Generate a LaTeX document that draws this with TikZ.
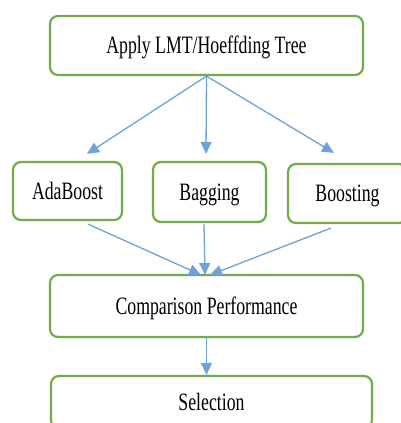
\documentclass[tikz,border=0pt]{standalone}
\usepackage{fontspec}
\setmainfont{Liberation Serif}
\usetikzlibrary{arrows.meta}
\definecolor{boxgreen}{HTML}{70AD47}
\definecolor{flowblue}{HTML}{6FA3D8}
\tikzset{
  stagebox/.style={draw=boxgreen, line width=2.2pt, rounded corners=8pt,
    fill=white, inner sep=0pt, text height=16.5pt, text depth=0pt,
    font=\fontsize{25pt}{28pt}\selectfont},
  flow/.style={draw=flowblue, line width=1.3pt,
    -{Triangle[length=12pt,width=11pt]}, fill=flowblue}
}
\newcommand{\lbl}[1]{\scalebox{0.71}[1]{#1}}
\begin{document}
\begin{tikzpicture}[x=1pt,y=-1pt]
  \useasboundingbox (0,0) rectangle (401,423);
  \clip (0,0) rectangle (401,423);
  \fill[white] (0,0) rectangle (401,423);

  % process stages
  \node[stagebox, minimum width=313pt, minimum height=59pt] (apply) at (206.5,45.5) {\lbl{Apply LMT/Hoeffding Tree}};
  \node[stagebox, minimum width=109pt, minimum height=58pt] (ada) at (67.5,191) {\lbl{AdaBoost}};
  \node[stagebox, minimum width=113pt, minimum height=60pt] (bag) at (209.5,192) {\lbl{Bagging}};
  \node[stagebox, minimum width=119pt, minimum height=59pt] (boo) at (347.5,193.5) {\lbl{Boosting}};
  \node[stagebox, minimum width=313pt, minimum height=62pt] (cmp) at (206.5,306) {\lbl{Comparison Performance}};
  \node[stagebox, minimum width=321pt, minimum height=52pt] (sel) at (211.5,402) {\lbl{Selection}};

  % fan-out to the ensemble methods
  \draw[flow] (apply.south) -- ([xshift=19.5pt,yshift=7pt]ada.north);
  \draw[flow] (apply.south) -- ([xshift=-3.5pt,yshift=7pt]bag.north);
  \draw[flow] (apply.south) -- ([xshift=-13.5pt,yshift=10pt]boo.north);

  % fan-in to the comparison
  \draw[flow] ([xshift=20.5pt,yshift=-3pt]ada.south) -- ([xshift=-5.5pt,yshift=-1pt]cmp.north);
  \draw[flow] ([xshift=-5.5pt,yshift=-1pt]bag.south) -- ([xshift=-1.5pt,yshift=-1pt]cmp.north);
  \draw[flow] ([xshift=-16.5pt,yshift=-4pt]boo.south) -- ([xshift=3.5pt,yshift=-1pt]cmp.north);

  % final step
  \draw[flow] (cmp.south) -- (cmp.south |- sel.north);
\end{tikzpicture}
\end{document}
